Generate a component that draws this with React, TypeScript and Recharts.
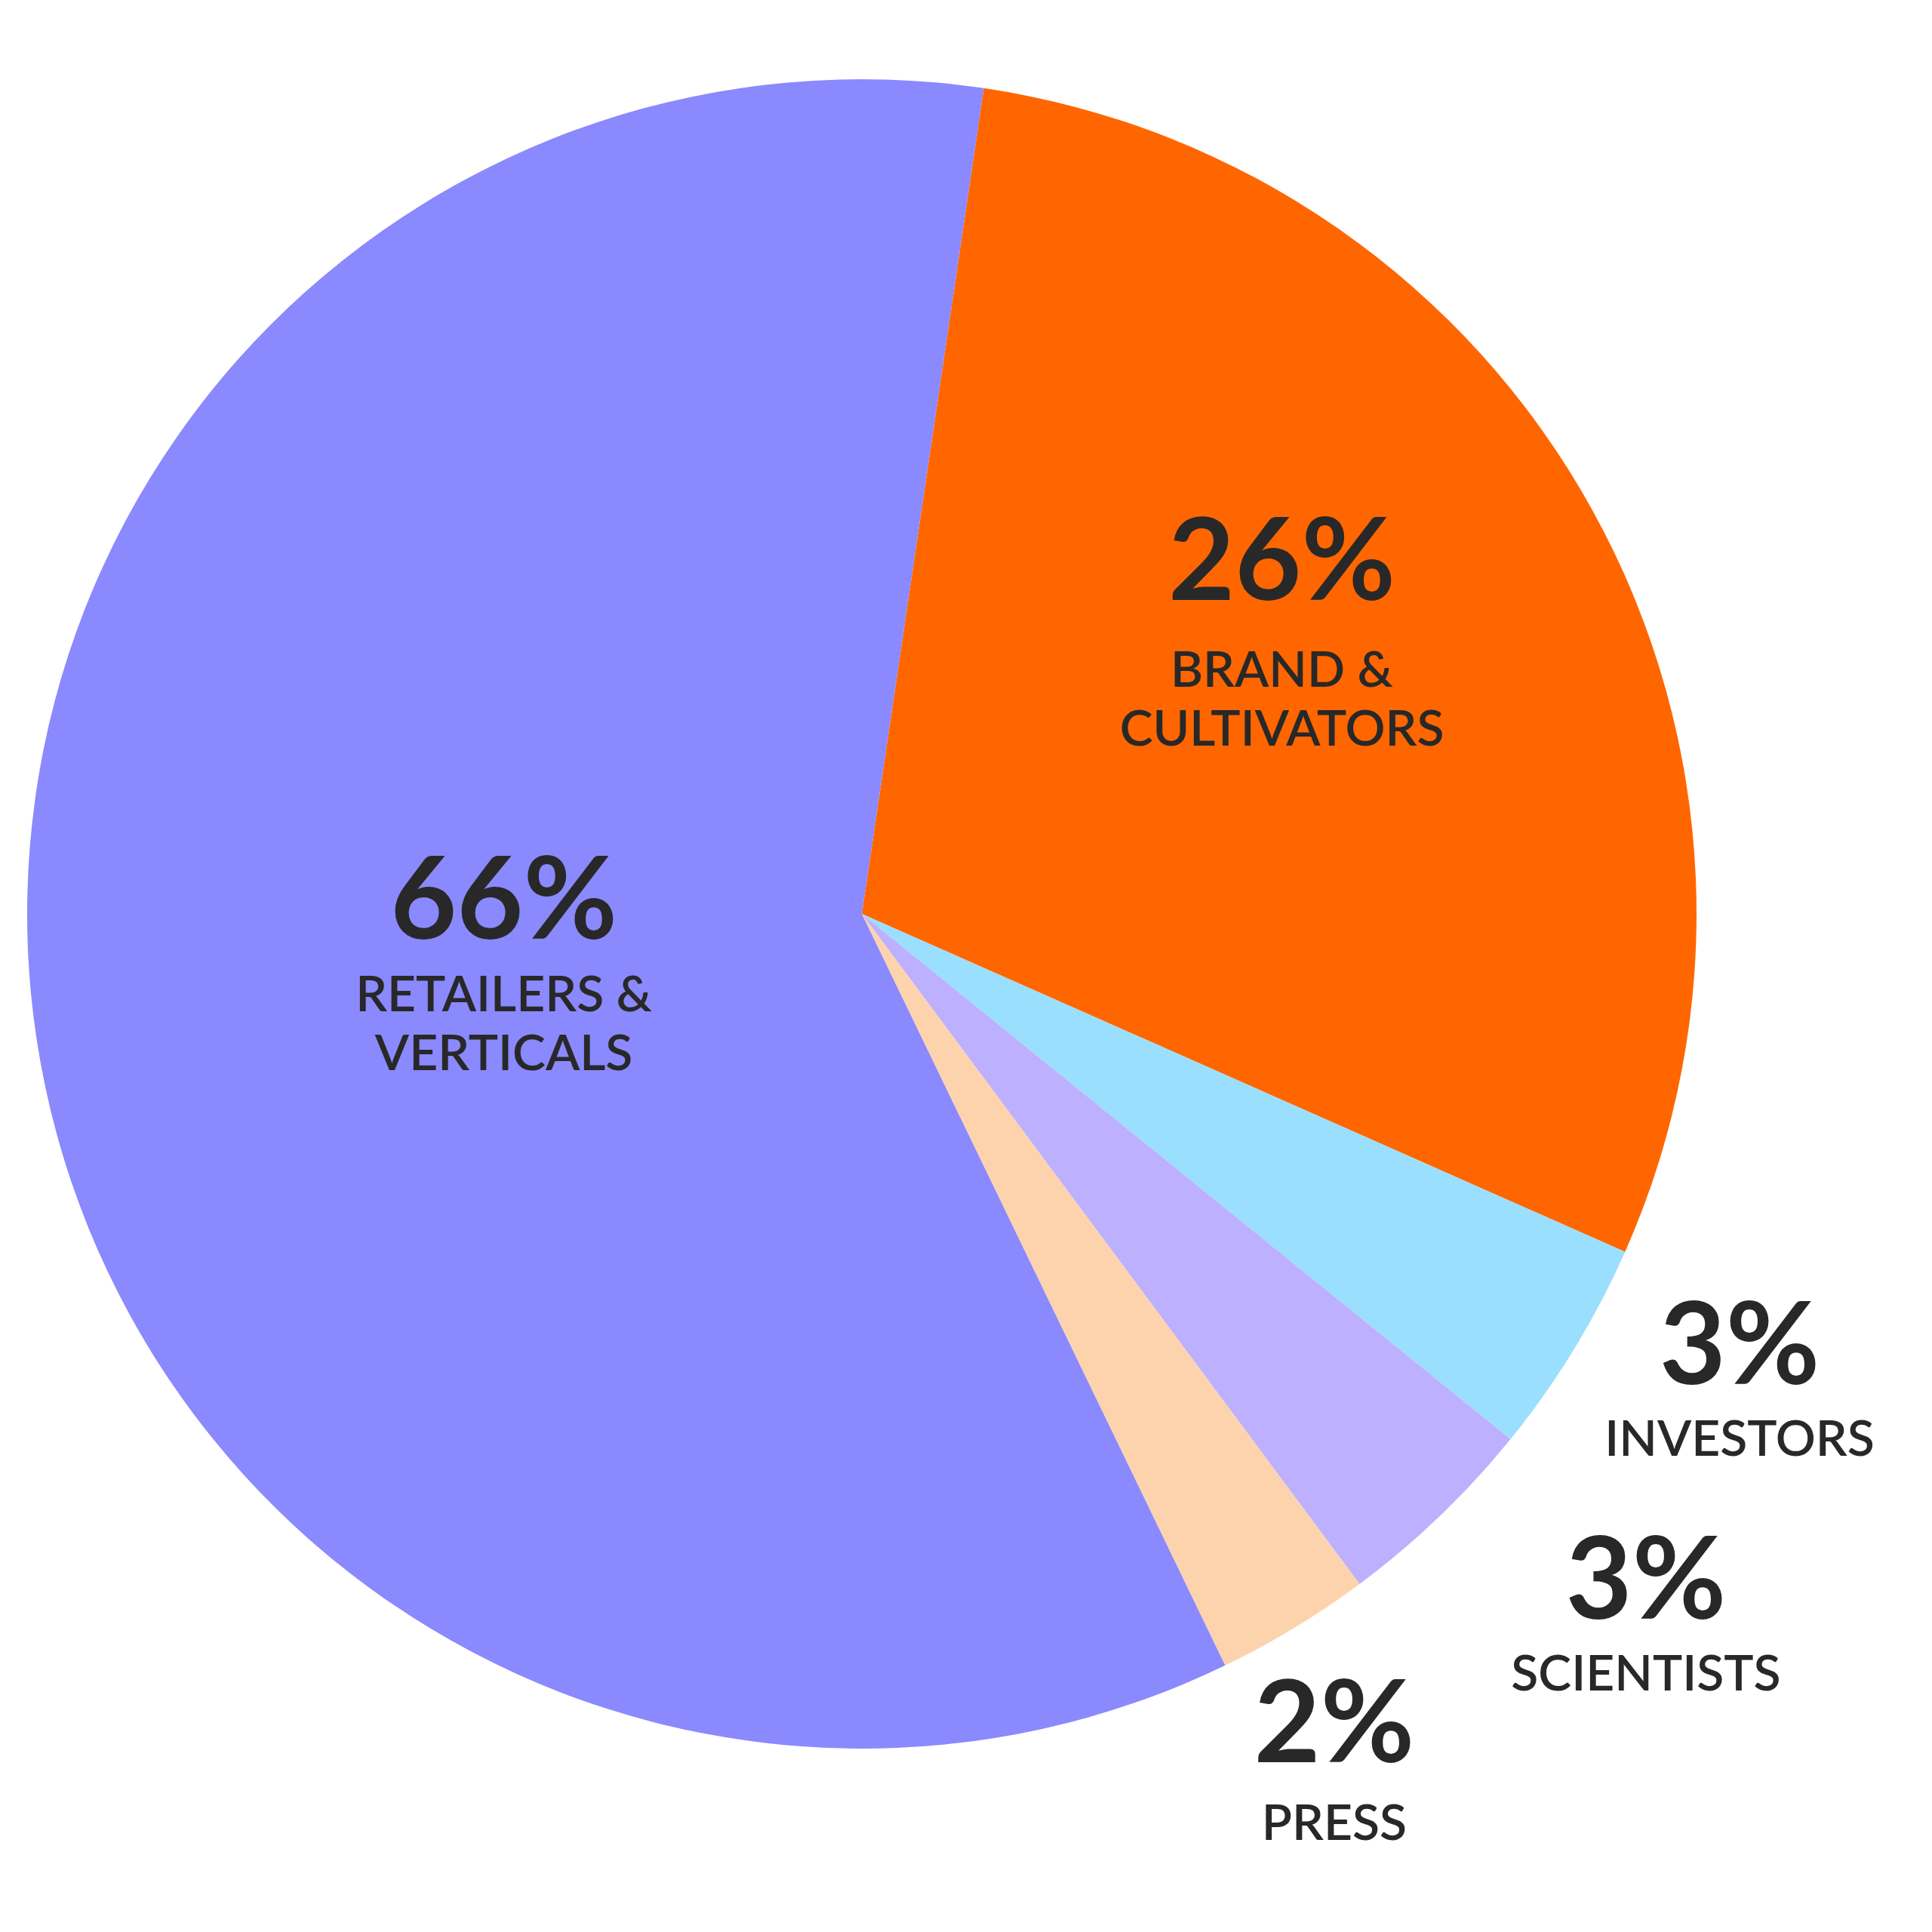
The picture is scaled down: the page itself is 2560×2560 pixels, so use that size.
import React from 'react';
import { PieChart, Pie, Cell } from 'recharts';

// Data
const segments = ['BRAND & CULTIVATORS', 'INVESTORS', 'SCIENTISTS', 'PRESS', 'RETAILERS & VERTICALS'];
const shares = [29.3, 4.2, 4.0, 3.0, 59.5];
const percentLabels = ['26%', '3%', '3%', '2%', '66%'];
const labelLines = [['BRAND &', 'CULTIVATORS'], ['INVESTORS'], ['SCIENTISTS'], ['PRESS'], ['RETAILERS &', 'VERTICALS']];
const colors = ['#ff6600', '#9bdfff', '#bdb0ff', '#fdd3ae', '#8a89fe'];

// Label placement relative to pie (polar angle in deg, radius as fraction of outer radius, gap to first text line)
const labelPlacement = [
  { angle: 36.75, r: 0.628, gap: 115 },
  { angle: -28.18, r: 1.193, gap: 95 },
  { angle: -41.95, r: 1.263, gap: 95 },
  { angle: -60.88, r: 1.163, gap: 103 },
  { angle: 184.0, r: 0.430, gap: 96 },
];

const data = segments.map((name, i) => ({ name, value: shares[i] }));

const RAD = Math.PI / 180;
const TEXT = '#282828';
const FONT = 'Lato, "Open Sans", sans-serif';

const renderLabel = (props: any) => {
  const { cx, cy, outerRadius, index } = props;
  const p = labelPlacement[index];
  const x = cx + Math.cos(-p.angle * RAD) * outerRadius * p.r;
  const y = cy + Math.sin(-p.angle * RAD) * outerRadius * p.r;
  return (
    <g key={`lbl-${index}`}>
      <text x={x} y={y} textAnchor="middle" fill={TEXT} fontFamily={FONT} fontWeight={700} fontSize={152}>
        {percentLabels[index]}
      </text>
      {labelLines[index].map((line, j) => (
        <text
          key={j}
          x={x}
          y={y + p.gap + j * 78}
          textAnchor="middle"
          fill={TEXT}
          fontFamily={FONT}
          fontWeight={600}
          fontSize={66}
        >
          {line}
        </text>
      ))}
    </g>
  );
};

export default function App() {
  return (
    <div style={{ position: 'absolute', left: 0, top: 0, width: 2560, height: 2560, background: '#fff' }}>
      <PieChart width={2560} height={2560} margin={{ top: 0, right: 0, bottom: 0, left: 0 }}>
        <Pie
          data={data}
          dataKey="value"
          nameKey="name"
          cx={1142}
          cy={1211}
          innerRadius={0}
          outerRadius={1106}
          startAngle={81.6}
          endAngle={-278.4}
          stroke="none"
          paddingAngle={0}
          isAnimationActive={false}
          label={renderLabel}
          labelLine={false}
        >
          {data.map((d, i) => (
            <Cell key={d.name} fill={colors[i]} stroke="none" />
          ))}
        </Pie>
      </PieChart>
    </div>
  );
}
